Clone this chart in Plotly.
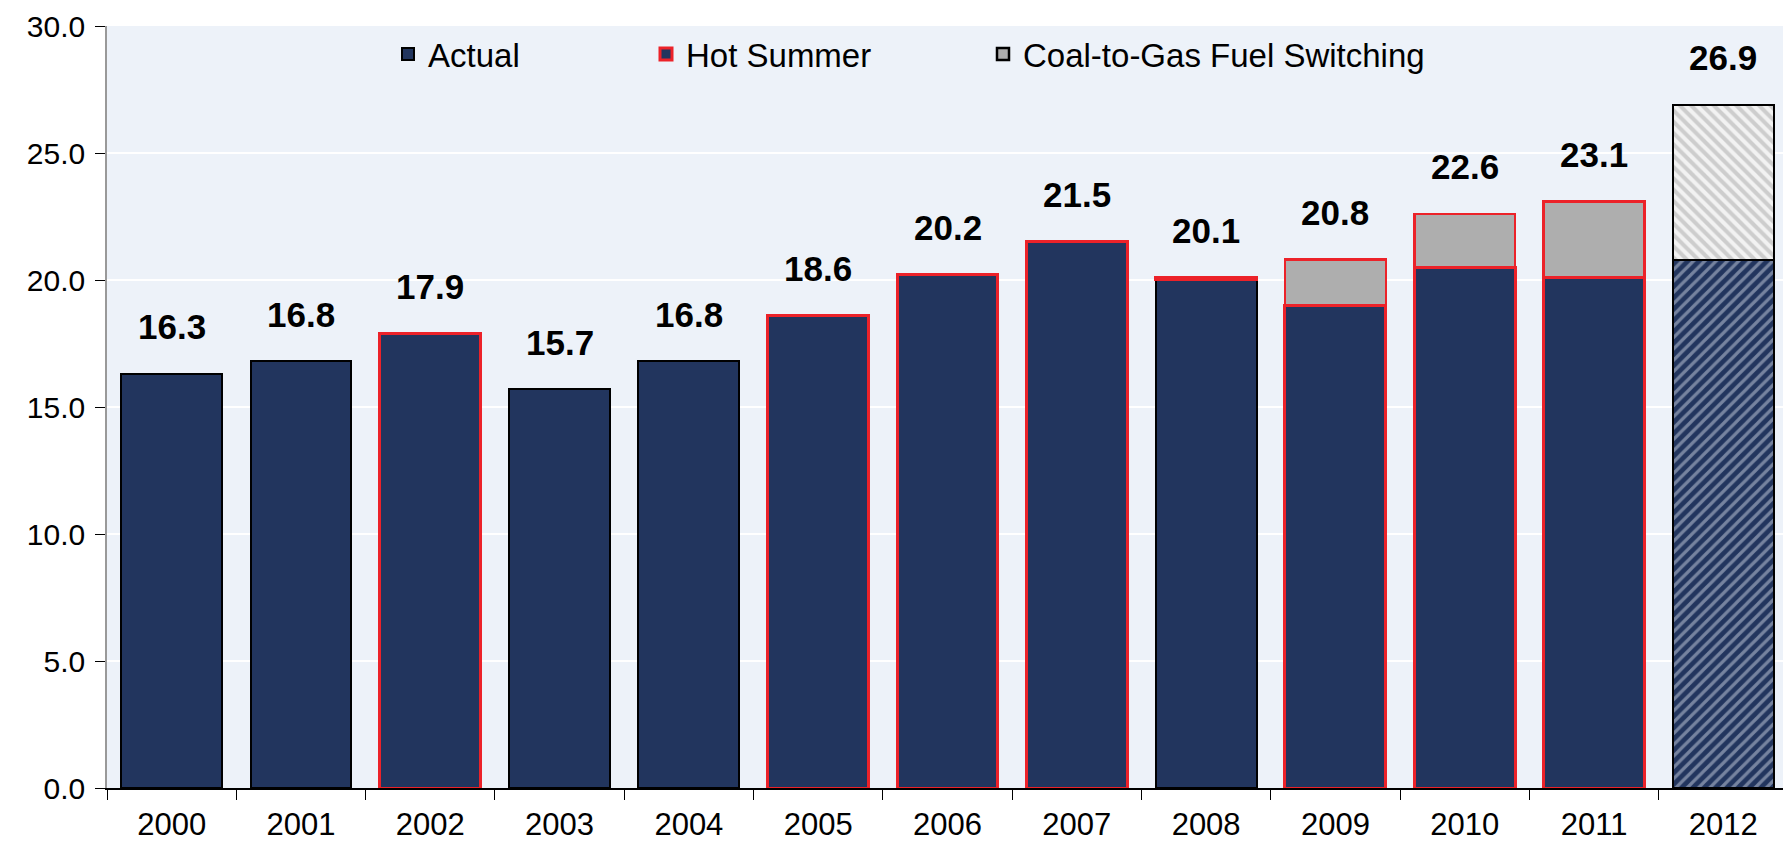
import plotly.graph_objects as go

years = ["2000", "2001", "2002", "2003", "2004", "2005", "2006",
         "2007", "2008", "2009", "2010", "2011", "2012"]
base_values = [16.3, 16.8, 17.9, 15.7, 16.8, 18.6, 20.2, 21.5, 20.0, 19.0, 20.5, 20.1, 20.8]
switch_values = [None, None, None, None, None, None, None, None, 0.1, 1.8, 2.1, 3.0, 6.1]
hot_summer = [False, False, True, False, False, True, True, True, False, True, True, True, False]
projected = [False] * 12 + [True]
y_ticks = [0, 5, 10, 15, 20, 25, 30]

NAVY = "#22355E"
RED = "#EC2229"
GRAY = "#AEAEAE"
BG = "#EDF2F9"
FONT = "Liberation Sans, Arial, sans-serif"


def pick(vals, mask):
    return [v if m else None for v, m in zip(vals, mask)]


actual_mask = [not h and not p for h, p in zip(hot_summer, projected)]
hot_mask = hot_summer
hist_mask = [not p for p in projected]

fig = go.Figure()

fig.add_trace(go.Bar(
    x=years, y=pick(base_values, actual_mask), name="Actual",
    marker=dict(color=NAVY, line=dict(color="#000000", width=2)),
    legend="legend",
))
fig.add_trace(go.Bar(
    x=years, y=pick(base_values, hot_mask), name="Hot Summer",
    marker=dict(color=NAVY, line=dict(color=RED, width=3)),
    legend="legend2",
))
fig.add_trace(go.Bar(
    x=years, y=pick(base_values, projected), name="Projected base", showlegend=False,
    marker=dict(color=NAVY, line=dict(color="#000000", width=2),
                pattern=dict(shape="/", fgcolor="#C9D2E0", size=8, solidity=0.4, fillmode="overlay")),
))
hist_switch = pick(switch_values, hist_mask)
fig.add_trace(go.Bar(
    x=years, y=hist_switch, name="Coal-to-Gas Fuel Switching",
    marker=dict(color=GRAY, line=dict(color=["#000000" if v is None else RED for v in hist_switch], width=2.5)),
    legend="legend3",
))
fig.add_trace(go.Bar(
    x=years, y=pick(switch_values, projected), name="Projected switching", showlegend=False,
    marker=dict(color="#F2F2F2", line=dict(color="#000000", width=2),
                pattern=dict(shape="\\", fgcolor="#A8A8A8", size=8, solidity=0.5, fillmode="overlay")),
))

totals = [round(b + (s or 0), 1) for b, s in zip(base_values, switch_values)]
for i, tot in enumerate(totals):
    fig.add_annotation(
        x=i, y=tot, text=f"{tot:.1f}", showarrow=False,
        yanchor="middle", yshift=47,
        font=dict(family=FONT, size=35, color="#000000", weight="bold"),
    )

# the page body adds an 8px offset; plot area targets given in window pixels
OFF = 8
W, H = 1791 - OFF, 841 - OFF
PLOT_L, PLOT_R, PLOT_T, PLOT_B = 107 - OFF, 1788 - OFF, 26 - OFF, 788 - OFF


def px_x(px):
    return (px - OFF - PLOT_L) / (PLOT_R - PLOT_L)


legend_common = dict(
    orientation="h", yref="paper", y=(PLOT_B - (54 - OFF)) / (PLOT_B - PLOT_T), yanchor="middle",
    xref="paper", xanchor="left", bgcolor="rgba(0,0,0,0)",
    font=dict(family=FONT, size=33, color="#000000"),
)

fig.update_layout(
    width=W, height=H,
    margin=dict(l=PLOT_L, r=W - PLOT_R, t=PLOT_T, b=H - PLOT_B, autoexpand=False),
    paper_bgcolor="#FFFFFF", plot_bgcolor=BG,
    barmode="stack", bargap=0.22,
    legend=dict(x=px_x(388), **legend_common),
    legend2=dict(x=px_x(646), **legend_common),
    legend3=dict(x=px_x(983), **legend_common),
    xaxis=dict(
        type="category", showgrid=False, showline=True, linecolor="#000000", linewidth=1.5,
        ticks="outside", tickson="boundaries", ticklen=10, tickcolor="#000000",
        tickangle=0, range=[-0.5, 12.5], ticklabelstandoff=8,
        tickfont=dict(family=FONT, size=31, color="#000000"),
    ),
    yaxis=dict(
        range=[0, 30], tickvals=y_ticks, tickformat=".1f",
        showgrid=True, gridcolor="#FFFFFF", gridwidth=2, zeroline=False,
        showline=True, linecolor="#999999", linewidth=1.5,
        ticks="outside", ticklen=10, tickcolor="#000000", ticklabelstandoff=4,
        tickfont=dict(family=FONT, size=30, color="#000000"),
    ),
)

fig.write_html("out.html")
